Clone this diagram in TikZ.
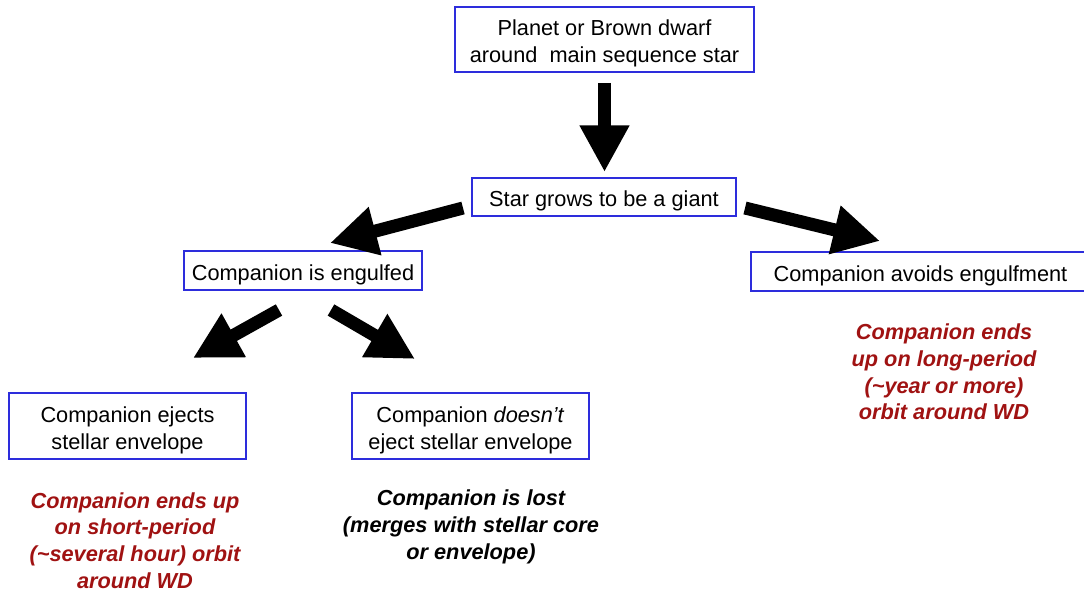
\documentclass[tikz,border=0pt]{standalone}
\usepackage{fontspec}
\setmainfont{Liberation Sans}
\usetikzlibrary{arrows.meta}
\definecolor{boxblue}{RGB}{45,45,220}
\definecolor{resred}{RGB}{160,18,18}
\tikzset{
  stagebox/.style={draw=boxblue, line width=1.1pt, inner sep=0pt},
  boxtext/.style={align=center, inner sep=0pt,
    font=\fontsize{16.3pt}{20.25pt}\selectfont},
  resulttext/.style={align=center, inner sep=0pt,
    font=\fontsize{16.3pt}{20pt}\selectfont\bfseries\itshape},
  bigarrow/.style={line width=9.75pt, -{Triangle[length=35pt,width=35pt]}}
}
\begin{document}
\begin{tikzpicture}[x=0.75pt,y=-0.75pt]
\useasboundingbox (0,0) rectangle (1084,592);
% boxes
\node[stagebox, minimum width=224.25pt, minimum height=48.75pt] (top) at (604.5,39.5) {};
\node[stagebox, minimum width=198pt, minimum height=28.5pt] (star) at (604,197) {};
\node[stagebox, minimum width=178.5pt, minimum height=29.25pt] (eng) at (303,270.5) {};
\node[stagebox, minimum width=254.25pt, minimum height=29.25pt] (avoid) at (920.5,271.5) {};
\node[stagebox, minimum width=177.75pt, minimum height=49.5pt] (eject) at (127.5,426) {};
\node[stagebox, minimum width=177.75pt, minimum height=49.5pt] (noeject) at (470.5,426) {};
% box texts
\node[boxtext] (toptxt) at ([yshift=-3pt]top.center)
  {Planet or Brown dwarf\\around\ \ main sequence star};
\node[boxtext] (startxt) at ([yshift=-3pt]star.center) {Star grows to be a giant};
\node[boxtext] (engtxt) at ([yshift=-3pt]eng.center) {Companion is engulfed};
\node[boxtext] (avoidtxt) at ([yshift=-3pt]avoid.center) {Companion avoids engulfment};
\node[boxtext] (ejecttxt) at ([yshift=-3pt]eject.center)
  {Companion ejects\\stellar envelope};
\node[boxtext] (noejecttxt) at ([yshift=-3pt]noeject.center)
  {Companion \textit{doesn’t}\\eject stellar envelope};
% results
\node[resulttext, text=resred] (resavoid) at (944,372)
  {Companion ends\\up on long-period\\(\textasciitilde year or more)\\orbit around WD};
\node[resulttext, text=resred, anchor=north, text depth=0pt] (reseject) at (135,492)
  {Companion ends up\\on short-period\\(\textasciitilde several hour) orbit\\around WD};
\node[resulttext] (reslost) at (471,527)
  {Companion is lost\\(merges with stellar core\\or envelope)};
% arrow end points
\coordinate (a1s) at (604.5,83);  \coordinate (a1e) at (604.5,172);
\coordinate (a2s) at (463,208);   \coordinate (a2e) at (330,243);
\coordinate (a3s) at (745,208);   \coordinate (a3e) at (880,241);
\coordinate (a4s) at (279,310);   \coordinate (a4e) at (193,358);
\coordinate (a5s) at (331,310);   \coordinate (a5e) at (415,359);
\draw[bigarrow] (a1s) -- (a1e);
\draw[bigarrow] (a2s) -- (a2e);
\draw[bigarrow] (a3s) -- (a3e);
\draw[bigarrow] (a4s) -- (a4e);
\draw[bigarrow] (a5s) -- (a5e);
\end{tikzpicture}
\end{document}
